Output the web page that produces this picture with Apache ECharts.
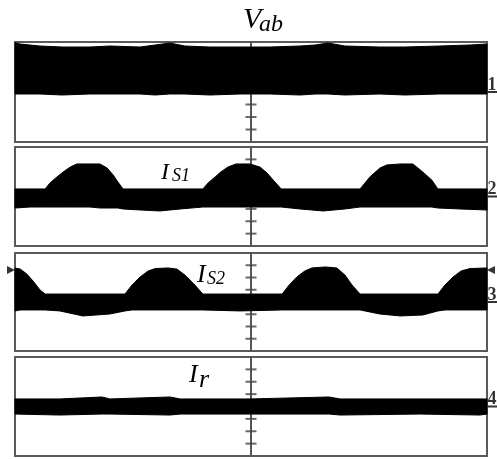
<!DOCTYPE html>
<html>
<head>
<meta charset="utf-8">
<script src="https://cdn.jsdelivr.net/npm/echarts@6/dist/echarts.min.js"></script>
<style>
html,body{margin:0;padding:0;background:#fff;}
#chart{width:497px;height:459px;}
</style>
</head>
<body>
<div id="chart"></div>
<script>
// time in divisions relative to trigger (centre), amplitude in divisions (0..8)
const t1 = [-5.0,-4.89,-4.47,-4.00,-3.41,-2.99,-2.35,-2.03,-1.72,-1.40,-0.87,-0.23,0.40,1.04,1.36,1.63,1.99,2.73,3.26,4.00,4.64,5.0];
const up1 = [7.95,7.84,7.68,7.6,7.6,7.68,7.6,7.76,7.92,7.68,7.6,7.6,7.6,7.68,7.76,7.92,7.68,7.6,7.6,7.68,7.76,7.84];
const lo1 = [3.84,3.84,3.84,3.76,3.84,3.84,3.84,3.76,3.84,3.84,3.76,3.84,3.84,3.76,3.84,3.84,3.76,3.84,3.76,3.84,3.84,3.84];

const t2 = [-5.0,-4.68,-4.36,-4.26,-4.11,-3.98,-3.83,-3.69,-3.41,-3.20,-3.05,-2.92,-2.82,-2.71,-2.35,-1.93,-1.50,-1.02,-0.91,-0.76,-0.64,-0.49,-0.32,-0.02,0.19,0.34,0.47,0.64,1.04,1.53,1.99,2.31,2.52,2.73,2.88,3.16,3.43,3.64,3.83,3.96,4.43,5.0];
const up2 = [4.61,4.61,4.61,5.09,5.58,5.98,6.38,6.63,6.63,6.63,6.30,5.74,5.17,4.61,4.61,4.61,4.61,4.61,5.09,5.58,5.98,6.38,6.63,6.63,6.38,5.90,5.33,4.61,4.61,4.61,4.61,4.61,5.58,6.30,6.55,6.63,6.63,5.98,5.33,4.61,4.61,4.61];
const lo2 = [3.07,3.15,3.15,3.15,3.15,3.15,3.15,3.15,3.15,3.07,3.07,3.07,3.07,2.99,2.91,2.83,2.99,3.15,3.15,3.15,3.15,3.15,3.15,3.15,3.15,3.15,3.15,3.15,2.99,2.83,2.99,3.15,3.15,3.15,3.15,3.15,3.15,3.15,3.15,3.07,2.99,2.91];

const t3 = [-5.0,-4.89,-4.75,-4.60,-4.47,-4.36,-4.05,-3.56,-2.99,-2.67,-2.52,-2.35,-2.18,-2.03,-1.76,-1.57,-1.40,-1.19,-1.02,-0.23,0.66,0.81,0.97,1.14,1.29,1.57,1.82,1.99,2.14,2.31,2.73,3.16,3.64,3.96,4.11,4.28,4.45,4.64,5.0];
const up3 = [6.78,6.69,6.29,5.63,4.98,4.65,4.65,4.65,4.65,4.65,5.39,6.04,6.53,6.73,6.78,6.69,6.20,5.39,4.65,4.65,4.65,5.39,6.04,6.53,6.78,6.86,6.78,6.20,5.39,4.65,4.65,4.65,4.65,4.65,5.39,6.04,6.53,6.73,6.78];
const lo3 = [3.27,3.35,3.35,3.35,3.35,3.35,3.27,2.86,3.02,3.27,3.35,3.35,3.35,3.35,3.35,3.35,3.35,3.35,3.35,3.27,3.35,3.35,3.35,3.35,3.35,3.35,3.35,3.35,3.35,3.35,3.02,2.86,2.94,3.27,3.35,3.35,3.35,3.35,3.35];

const t4 = [-5.0,-4.05,-3.16,-2.99,-1.72,-1.50,-0.02,1.65,1.89,3.58,4.85,5.0];
const up4 = [4.61,4.61,4.77,4.61,4.77,4.61,4.61,4.77,4.61,4.61,4.61,4.61];
const lo4 = [3.39,3.31,3.39,3.39,3.31,3.39,3.39,3.39,3.31,3.39,3.31,3.39];

const channelLabels = ['1','2','3','4'];
const groundLevels = [4,4,4,4];
const centreTicks = [1,2,3,4,5,6,7];
const triggerLevel = 6.61; // channel 3 trigger arrows

const panels = [
  {t:t1, up:up1, lo:lo1, top:42, height:100},
  {t:t2, up:up2, lo:lo2, top:147, height:99},
  {t:t3, up:up3, lo:lo3, top:253, height:98},
  {t:t4, up:up4, lo:lo4, top:357, height:99}
];

const grid = [], xAxis = [], yAxis = [], series = [];
panels.forEach((p, i) => {
  grid.push({left:15, right:10, top:p.top, height:p.height, show:true,
    borderColor:'#5a5a5a', borderWidth:2, backgroundColor:'#fff'});
  xAxis.push({gridIndex:i, type:'value', min:-5, max:5,
    axisLine:{show:false}, axisTick:{show:false}, axisLabel:{show:false}, splitLine:{show:false}});
  yAxis.push({gridIndex:i, type:'value', min:0, max:8,
    axisLine:{show:true, onZero:true, lineStyle:{color:'#555', width:2}},
    axisTick:{show:false}, axisLabel:{show:false}, splitLine:{show:false}});
  series.push({type:'scatter', xAxisIndex:i, yAxisIndex:i, z:1, silent:true,
    data: centreTicks.map(v => [0, v]), symbol:'rect', symbolSize:[11,2],
    itemStyle:{color:'#444'}});
  // envelope of the switching waveform, filled between upper and lower edges
  series.push({type:'custom', xAxisIndex:i, yAxisIndex:i, z:3, silent:true,
    data:[0],
    renderItem: function(params, api){
      const pts = [];
      for (let k = 0; k < p.t.length; k++) pts.push(api.coord([p.t[k], p.up[k]]));
      for (let k = p.t.length - 1; k >= 0; k--) pts.push(api.coord([p.t[k], p.lo[k]]));
      return {type:'polygon', shape:{points:pts}, style:{fill:'#000', stroke:'#000', lineWidth:1}};
    }});
  series.push({type:'scatter', xAxisIndex:i, yAxisIndex:i, z:4, clip:false, silent:true,
    data:[[5, groundLevels[i]]], symbol:'rect', symbolSize:[10,2], symbolOffset:[6,0],
    itemStyle:{color:'#000'},
    label:{show:true, position:'top', distance:0, offset:[-1,3], formatter:channelLabels[i],
      color:'#000', fontSize:18, fontWeight:'bold', fontFamily:'Liberation Sans Narrow'}});
});
// trigger level arrows on channel 3
series.push({type:'scatter', xAxisIndex:2, yAxisIndex:2, z:4, clip:false, silent:true,
  data:[[-5, triggerLevel]], symbol:'triangle', symbolSize:[8,8], symbolRotate:-90,
  symbolOffset:[-4,0], itemStyle:{color:'#000'}});
series.push({type:'scatter', xAxisIndex:2, yAxisIndex:2, z:4, clip:false, silent:true,
  data:[[5, triggerLevel]], symbol:'triangle', symbolSize:[8,8], symbolRotate:90,
  symbolOffset:[4,0], itemStyle:{color:'#000'}});

const serif = 'Liberation Serif';
function txt(s, left, top, size){
  return {text:s, left:left, top:top, padding:0,
    textStyle:{fontFamily:serif, fontStyle:'italic', fontWeight:'normal', fontSize:size, color:'#000'}};
}
const title = [
  txt('V', 243, 5, 30), txt('ab', 259, 13, 24),
  txt('I', 161, 161, 24), txt('S1', 172, 167, 18),
  txt('I', 197, 262, 26), txt('S2', 207, 270, 18),
  txt('I', 189, 362, 26), txt('r', 199, 367, 26)
];

const chart = echarts.init(document.getElementById('chart'), null, {renderer:'canvas'});
chart.setOption({animation:false, backgroundColor:'#fff', title, grid, xAxis, yAxis, series});
</script>
</body>
</html>
